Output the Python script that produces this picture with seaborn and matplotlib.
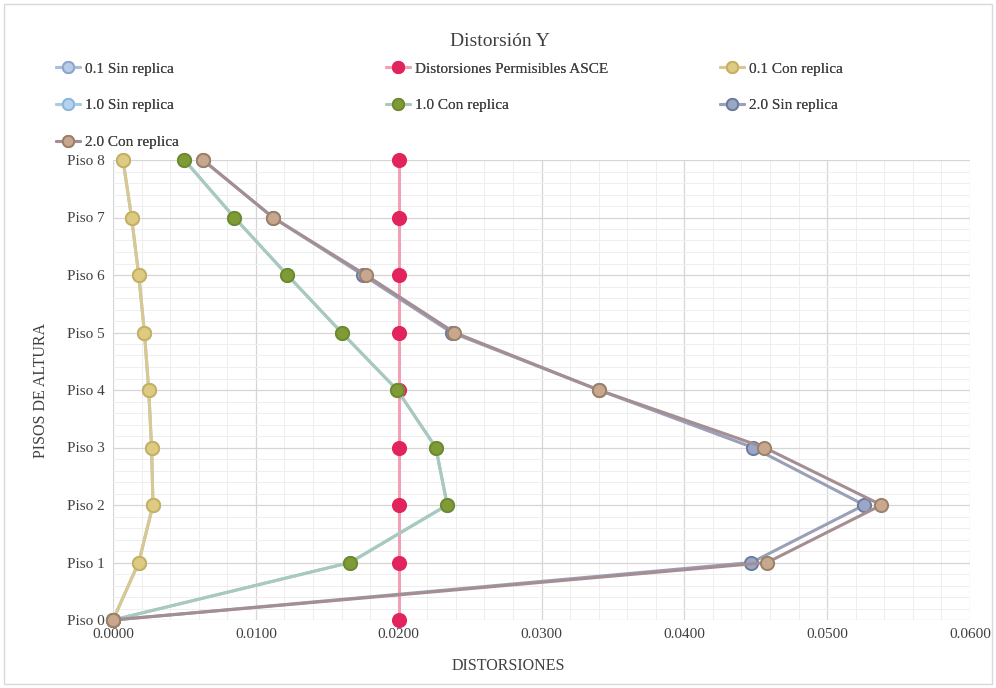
import matplotlib
matplotlib.use("Agg")
import matplotlib.pyplot as plt
from matplotlib.patches import Rectangle
from matplotlib.ticker import MultipleLocator, FuncFormatter
import seaborn as sns
import pandas as pd

# ---- data ----
pisos = ["Piso 0", "Piso 1", "Piso 2", "Piso 3", "Piso 4", "Piso 5", "Piso 6", "Piso 7", "Piso 8"]
sin_01 = [0.0000, 0.0018, 0.0028, 0.0027, 0.0025, 0.0022, 0.0018, 0.0013, 0.0007]
asce = [0.0200] * 9
con_01 = [0.0000, 0.0018, 0.0028, 0.0027, 0.0025, 0.0022, 0.0018, 0.0013, 0.0007]
sin_10 = [0.0000, 0.0166, 0.0234, 0.0226, 0.0199, 0.0160, 0.0122, 0.0085, 0.0050]
con_10 = [0.0000, 0.0166, 0.0234, 0.0226, 0.0199, 0.0160, 0.0122, 0.0085, 0.0050]
sin_20 = [0.0000, 0.0447, 0.0526, 0.0448, 0.0340, 0.0237, 0.0175, 0.0112, 0.0063]
con_20 = [0.0000, 0.0458, 0.0538, 0.0456, 0.0340, 0.0239, 0.0177, 0.0112, 0.0063]

series_names = ["0.1 Sin replica", "Distorsiones Permisibles ASCE", "0.1 Con replica",
                "1.0 Sin replica", "1.0 Con replica", "2.0 Sin replica", "2.0 Con replica"]
series_vals = [sin_01, asce, con_01, sin_10, con_10, sin_20, con_20]

# styles: (line color, marker face, marker edge)
styles = {
    "0.1 Sin replica": ("#A9BEDC", "#B8CCE6", "#8EA6CC"),
    "Distorsiones Permisibles ASCE": ("#F2A0B4", "#E2245C", "#E2245C"),
    "0.1 Con replica": ("#D9C990", "#DCCB80", "#C8B060"),
    "1.0 Sin replica": ("#A8CCE0", "#B5D3EE", "#8DB6DC"),
    "1.0 Con replica": ("#A9C9BC", "#7E9B37", "#6E8A2C"),
    "2.0 Sin replica": ("#9AA0B8", "#9AA8C6", "#6C7CA0"),
    "2.0 Con replica": ("#A48E92", "#C7A88E", "#9C8068"),
}

idx = list(range(len(pisos)))
frames = []
for name, vals in zip(series_names, series_vals):
    frames.append(pd.DataFrame({"serie": name, "dist": vals, "piso": idx}))
df = pd.concat(frames, ignore_index=True)

sns.set_theme(style="white")
plt.rcParams["font.family"] = ["Liberation Serif", "DejaVu Serif"]

fig = plt.figure(figsize=(9.96, 6.88), dpi=100)
ax = fig.add_axes([113 / 996, 1 - 620 / 688, (970 - 113) / 996, (620 - 160) / 688])

handles = {}
for name in series_names:
    lc, mf, me = styles[name]
    sub = df[df["serie"] == name]
    sns.lineplot(data=sub, x="dist", y="piso", orient="y", sort=False, ax=ax,
                 color=lc, linewidth=2.2, marker="o", markersize=9.5,
                 markerfacecolor=mf, markeredgecolor=me, markeredgewidth=1.4,
                 label=name, legend=False, clip_on=False, zorder=3)
    handles[name] = ax.lines[-1]

ax.set_xlim(0, 0.06)
ax.set_ylim(0, 8)
ax.xaxis.set_major_locator(MultipleLocator(0.01))
ax.xaxis.set_minor_locator(MultipleLocator(0.002))
ax.yaxis.set_major_locator(MultipleLocator(1))
ax.yaxis.set_minor_locator(MultipleLocator(0.2))
ax.xaxis.set_major_formatter(FuncFormatter(lambda v, p: f"{v:.4f}"))
ax.set_yticks(idx)
ax.set_yticklabels(pisos)
ax.grid(which="major", color="#D6D6D6", linewidth=0.9)
ax.grid(which="minor", color="#EEEEEE", linewidth=0.7)
ax.set_axisbelow(True)
for s in ax.spines.values():
    s.set_visible(False)
ax.tick_params(axis="both", which="both", length=0, labelsize=11, colors="#404040", pad=6)

ax.set_xlabel("DISTORSIONES", fontsize=11.5, color="#404040")
ax.set_ylabel("PISOS DE ALTURA", fontsize=11.5, color="#404040")
ax.xaxis.set_label_coords(395 / 857, -0.082)
ax.yaxis.set_label_coords(-64 / 857, 0.5)

fig.text(500 / 996, 1 - 41 / 688, "Distorsión Y", ha="center", va="center",
         fontsize=14, color="#404040")

# legend: three columns placed like the reference
cols = [["0.1 Sin replica", "1.0 Sin replica", "2.0 Con replica"],
        ["Distorsiones Permisibles ASCE", "1.0 Con replica"],
        ["0.1 Con replica", "2.0 Sin replica"]]
xs = [56, 386, 720]
for col, x0 in zip(cols, xs):
    leg = fig.legend([handles[n] for n in col], col, loc="upper left",
                     bbox_to_anchor=(x0 / 996, 1 - 62 / 688), frameon=False,
                     fontsize=11, labelspacing=1.5, handlelength=1.6,
                     handletextpad=0.3, borderaxespad=0, borderpad=0,
                     markerscale=0.85)
    for t in leg.get_texts():
        t.set_color("#404040")
    fig.add_artist(leg)

fig.add_artist(Rectangle((4 / 996, 4 / 688), 1 - 8 / 996, 1 - 8 / 688,
                         transform=fig.transFigure, fill=False,
                         edgecolor="#D9D9D9", linewidth=1))

fig.savefig("out.png", dpi=100, facecolor="white")
